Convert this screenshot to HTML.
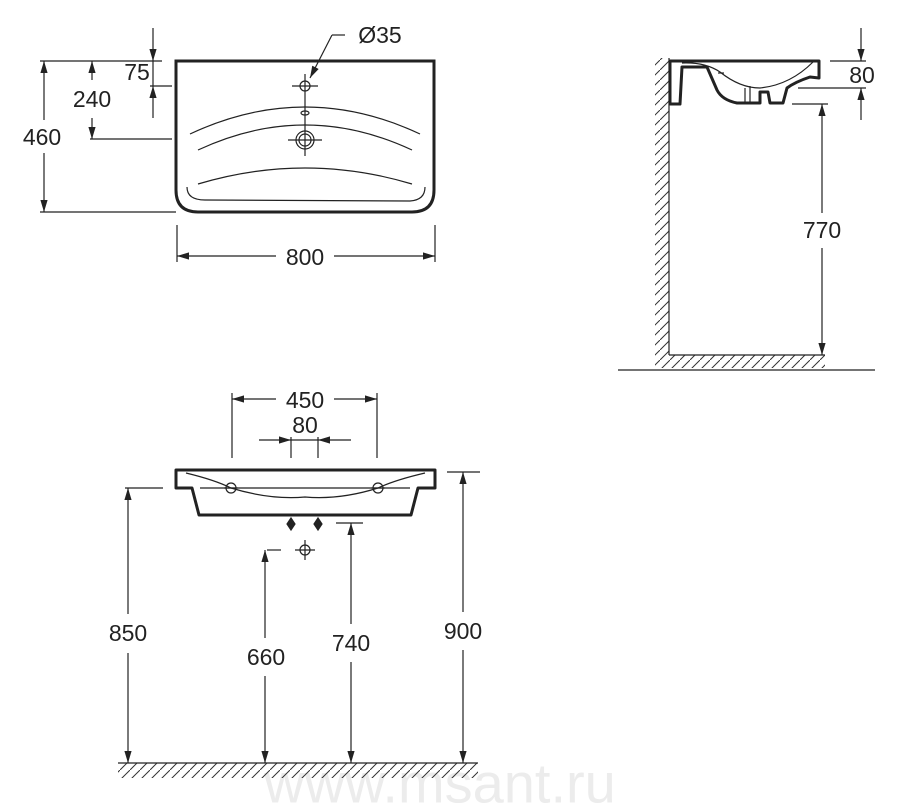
<!DOCTYPE html>
<html><head><meta charset="utf-8"><style>
html,body{margin:0;padding:0;background:#fff;}
svg{display:block}
text{font-family:"Liberation Sans",Arial,sans-serif;fill:#222;font-size:23px;text-anchor:middle;dominant-baseline:central}
</style></head><body>
<svg width="900" height="805" viewBox="0 0 900 805" xmlns="http://www.w3.org/2000/svg">
<defs>
<marker id="a" viewBox="0 0 10 10" refX="10" refY="5" markerWidth="12" markerHeight="12" markerUnits="userSpaceOnUse" orient="auto"><path d="M0,2 L10,5 L0,8 Z" fill="#222"/></marker>
<pattern id="h" width="10" height="10" patternUnits="userSpaceOnUse"><path d="M-1,11 L11,-1" stroke="#333" stroke-width="1"/></pattern>
</defs>
<text x="440" y="783" style="font-size:56px;fill:#ececec">www.msant.ru</text>
<g stroke="#222" fill="none" stroke-width="1.2">
<path d="M176,61 L434,61 L434,190 Q434,212 412,212 L198,212 Q176,212 176,190 Z" stroke-width="3"/>
<path d="M190,134 Q305,80 420,134"/>
<path d="M198,150 Q305,100 412,150"/>
<path d="M198,184 Q305,152 412,184"/>
<path d="M187,187 Q187,200 205,200 L410,201 Q425,200 425,187"/>
<circle cx="305" cy="86" r="5"/>
<line x1="292" y1="86" x2="318" y2="86"/>
<line x1="305" y1="74" x2="305" y2="156"/>
<ellipse cx="305" cy="113" rx="4" ry="2"/>
<circle cx="305" cy="140" r="9"/><circle cx="305" cy="140" r="6"/>
<line x1="288" y1="140" x2="322" y2="140"/>
<line x1="345" y1="35" x2="332" y2="35"/>
<line x1="332" y1="35" x2="310" y2="78" marker-end="url(#a)"/>
<line x1="40" y1="61" x2="162" y2="61"/>
<line x1="40" y1="212" x2="176" y2="212"/>
<line x1="44" y1="120" x2="44" y2="61" marker-end="url(#a)"/>
<line x1="44" y1="153" x2="44" y2="212" marker-end="url(#a)"/>
<line x1="92" y1="80" x2="92" y2="61" marker-end="url(#a)"/>
<line x1="92" y1="118" x2="92" y2="139" marker-end="url(#a)"/>
<line x1="90" y1="139" x2="172" y2="139"/>
<line x1="153" y1="28" x2="153" y2="61" marker-end="url(#a)"/>
<line x1="153" y1="61" x2="153" y2="86"/>
<line x1="150" y1="86" x2="172" y2="86"/>
<line x1="153" y1="118" x2="153" y2="86" marker-end="url(#a)"/>
<line x1="177" y1="225" x2="177" y2="262"/>
<line x1="435" y1="225" x2="435" y2="262"/>
<line x1="276" y1="256" x2="177" y2="256" marker-end="url(#a)"/>
<line x1="334" y1="256" x2="435" y2="256" marker-end="url(#a)"/>
<rect x="655" y="58" width="14" height="297" fill="url(#h)" stroke="none"/>
<rect x="655" y="355" width="170" height="13" fill="url(#h)" stroke="none"/>
<line x1="669" y1="58" x2="669" y2="355"/>
<line x1="669" y1="355" x2="825" y2="355"/>
<line x1="618" y1="370" x2="875" y2="370"/>
<path d="M670,61 L819,61 L819,78 L810,77 Q795,82 787,88 L783,103 L770,103 L768,92 L760,92 L760,103 L737,103 Q722,100 717,90 L707,67 L682,67 L680,104 L670,104 Z" stroke-width="3" stroke-linejoin="round"/>
<path d="M682,63 Q705,62 720,72 Q740,88 760,88 Q790,85 813,62"/>
<line x1="745" y1="88" x2="745" y2="104"/><line x1="750" y1="86" x2="750" y2="104"/>
<line x1="718" y1="73" x2="724" y2="73"/>
<line x1="830" y1="61" x2="866" y2="61"/>
<line x1="798" y1="88" x2="866" y2="88"/>
<line x1="861" y1="28" x2="861" y2="61" marker-end="url(#a)"/>
<line x1="861" y1="120" x2="861" y2="88" marker-end="url(#a)"/>
<line x1="792" y1="104" x2="828" y2="104"/>
<line x1="822" y1="213" x2="822" y2="104" marker-end="url(#a)"/>
<line x1="822" y1="248" x2="822" y2="355" marker-end="url(#a)"/>
<path d="M176,470 L435,470 L435,488 L418,488 L411,515 L199,515 L192,488 L176,488 Z" stroke-width="3" stroke-linejoin="round"/>
<path d="M186,473 Q215,480 231,488 Q270,500 305,497 Q340,500 378,488 Q395,480 425,473"/>
<line x1="200" y1="488" x2="410" y2="488"/>
<circle cx="231" cy="488" r="5"/><line x1="224" y1="488" x2="238" y2="488"/>
<circle cx="378" cy="488" r="5"/><line x1="371" y1="488" x2="385" y2="488"/>
<line x1="232" y1="393" x2="232" y2="458"/>
<line x1="377" y1="393" x2="377" y2="458"/>
<line x1="276" y1="399" x2="232" y2="399" marker-end="url(#a)"/>
<line x1="334" y1="399" x2="377" y2="399" marker-end="url(#a)"/>
<line x1="291" y1="437" x2="291" y2="458"/>
<line x1="318" y1="437" x2="318" y2="458"/>
<line x1="259" y1="440" x2="291" y2="440" marker-end="url(#a)"/>
<line x1="351" y1="440" x2="318" y2="440" marker-end="url(#a)"/>
<line x1="291" y1="440" x2="318" y2="440"/>
<path d="M291,518 L295,524 L291,530 L287,524 Z" fill="#222"/>
<path d="M318,518 L322,524 L318,530 L314,524 Z" fill="#222"/>
<circle cx="305" cy="550" r="5"/>
<line x1="295" y1="550" x2="315" y2="550"/><line x1="305" y1="540" x2="305" y2="560"/>
<line x1="125" y1="488" x2="163" y2="488"/>
<line x1="267" y1="550" x2="281" y2="550"/>
<line x1="336" y1="523" x2="363" y2="523"/>
<line x1="447" y1="472" x2="480" y2="472"/>
<line x1="128" y1="614" x2="128" y2="488" marker-end="url(#a)"/>
<line x1="128" y1="653" x2="128" y2="763" marker-end="url(#a)"/>
<line x1="265" y1="638" x2="265" y2="550" marker-end="url(#a)"/>
<line x1="265" y1="676" x2="265" y2="763" marker-end="url(#a)"/>
<line x1="351" y1="624" x2="351" y2="523" marker-end="url(#a)"/>
<line x1="351" y1="662" x2="351" y2="763" marker-end="url(#a)"/>
<line x1="463" y1="612" x2="463" y2="472" marker-end="url(#a)"/>
<line x1="463" y1="650" x2="463" y2="763" marker-end="url(#a)"/>
<rect x="118" y="763" width="360" height="15" fill="url(#h)" stroke="none"/>
<line x1="118" y1="763" x2="478" y2="763"/>
</g>
<text x="42" y="137">460</text>
<text x="92" y="99">240</text>
<text x="137" y="72">75</text>
<text x="380" y="35">Ø35</text>
<text x="305" y="257">800</text>
<text x="862" y="75">80</text>
<text x="822" y="230">770</text>
<text x="305" y="400">450</text>
<text x="305" y="425">80</text>
<text x="128" y="633">850</text>
<text x="266" y="657">660</text>
<text x="351" y="643">740</text>
<text x="463" y="631">900</text>
</svg>
</body></html>
